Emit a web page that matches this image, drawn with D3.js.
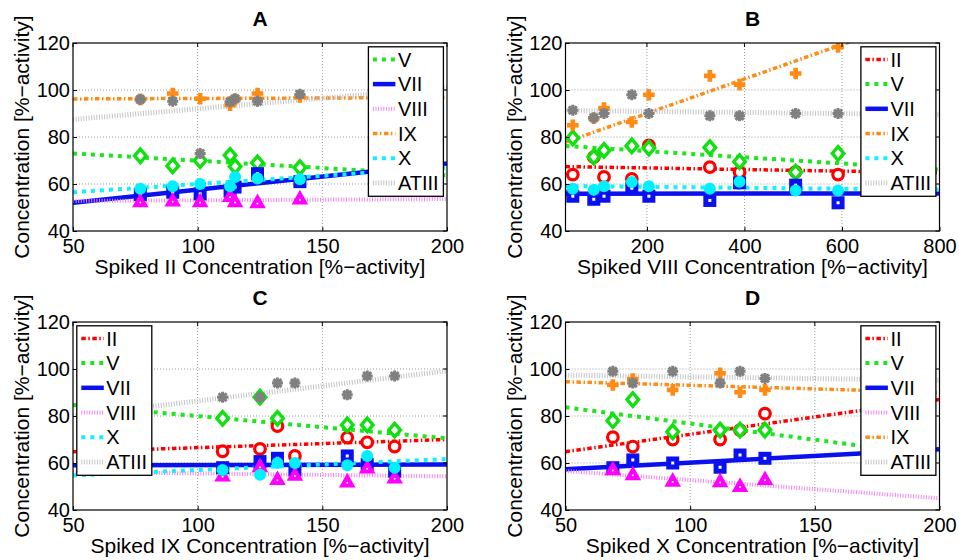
<!DOCTYPE html>
<html><head><meta charset="utf-8">
<script src="https://cdn.jsdelivr.net/npm/d3@7"></script>
<style>
body{margin:0;background:#fff}
svg{display:block}
text{font-family:"Liberation Sans",Arial,Helvetica,sans-serif;fill:#000}
</style>
</head><body>
<svg id="chart" width="959" height="560"></svg>
<script>
// ---------------- DATA ----------------
const seriesNames = ["II","V","VII","VIII","IX","X","ATIII"];
const yTicks = [40, 60, 80, 100, 120];
const yDomain = [40, 120];

// Panel A : spiked II
const xA = [77, 90, 101, 113, 115, 124, 141];
const A_V     = [72, 67.7, 70, 72.2, 67.5, 69, 67];
const A_VII   = [55.5, 56.5, 55.8, 57, 58.7, 64.4, 61];
const A_VIII  = [53, 53.3, 53, 55.2, 53, 52.6, 54.2];
const A_IX    = [96, 98.5, 96.3, 93.5, 96, 98.5, 97];
const A_X     = [58, 59, 60, 59, 63, 62.3, 62];
const A_ATIII = [96, 95.2, 73, 95, 96.3, 95.2, 98.2];
// trend-line values at the two ends of the x range
const fitA_V = [73, 63.7], fitA_VII = [52, 68.7], fitA_VIII = [52.8, 53.6],
      fitA_IX = [96.2, 96.8], fitA_X = [56.5, 67], fitA_ATIII = [87.5, 101];
const xDomainA = [50, 200];
const xTicksA = [50, 100, 150, 200];

// Panel B : spiked VIII
const xB = [48, 91, 112, 169, 204, 329, 390, 505, 592];
const B_II    = [64, 71.4, 63, 62.2, 76.4, 67.2, 65, 65.2, 64];
const B_V     = [79.6, 71.5, 74.3, 76.2, 75.3, 75.5, 69.5, 65, 73];
const B_VII   = [54.8, 53.5, 54.8, 58.2, 54.8, 53, 60.5, 59.5, 52];
const B_IX    = [85, 88, 92.3, 86.4, 98, 106, 102.3, 107, 118.3];
const B_X     = [58, 57.5, 59, 60.8, 59, 58, 61, 57.2, 57.2];
const B_ATIII = [91.4, 88.2, 90, 98, 90, 89, 89, 90, 90];
const fitB_II = [67.4, 64.8], fitB_V = [76.2, 66.1], fitB_VII = [55.8, 56],
      fitB_IX = [77.8, 134], fitB_X = [59.1, 57.6], fitB_ATIII = [91.3, 89.5];
const xDomainB = [33, 800];
const xTicksB = [200, 400, 600, 800];

// Panel C : spiked IX
const xC = [110, 125, 132, 139, 160, 168, 179];
const C_II    = [65, 66, 75.7, 63, 70.8, 68.8, 67];
const C_V     = [79, 88, 79, null, 76.2, 76.2, 74];
const C_VII   = [58, 60.6, 62, 57, 63, 59.3, 56.5];
const C_VIII  = [55, 59, 53.5, 55.3, 52.5, 58.4, 54.2];
const C_X     = [57, 55, 60, 60, 59, 63, 58];
const C_ATIII = [88, 88, 94, 94, 89, 97, 97];
const fitC_II = [64.8, 70], fitC_V = [84.7, 70.5], fitC_VII = [59, 59.4],
      fitC_VIII = [56.2, 54.3], fitC_X = [54.7, 61.7], fitC_ATIII = [80, 99.2];
const xDomainC = [50, 200];
const xTicksC = [50, 100, 150, 200];

// Panel D : spiked X
const xD = [69, 77, 93, 112, 120, 130];
const D_II    = [71, 67, 70, 70, 74, 81];
const D_V     = [78, 87, 73.3, 74, 74, 74];
const D_VII   = [58, 61.3, 60, 58.2, 63.4, 62];
const D_VIII  = [57.7, 55.6, 52.8, 52.6, 50.6, 53.5];
const D_IX    = [93.2, 95.7, 91.1, 98.2, 90.1, 91.1];
const D_ATIII = [99, 94, 99, 94, 99, 96];
const fitD_II = [64.8, 87], fitD_V = [83.7, 63], fitD_VII = [57.3, 65.8],
      fitD_VIII = [56.6, 45], fitD_IX = [94.6, 90], fitD_ATIII = [97.4, 95.2];
const xDomainD = [50, 200];
const xTicksD = [50, 100, 150, 200];

const titles = ["A", "B", "C", "D"];
const xLabels = ["Spiked II Concentration [%\u2212activity]", "Spiked VIII Concentration [%\u2212activity]",
                 "Spiked IX Concentration [%\u2212activity]", "Spiked X Concentration [%\u2212activity]"];
const yLabel = "Concentration [%\u2212activity]";

// ---------------- STYLES ----------------
const styles = {
  II:    {color:"#ff0000", width:3.5, dash:"4.5,2.5,1.5,2.5", marker:"circle"},
  V:     {color:"#1ee61e", width:4,   dash:"4,5",             marker:"diamond"},
  VII:   {color:"#0a10ee", width:4.5, dash:null,              marker:"square"},
  VIII:  {color:"#f284f2", width:4,   dash:"1,1.6",           marker:"triangle"},
  IX:    {color:"#ff8a14", width:3.5, dash:"4.5,2.5,1.5,2.5", marker:"plus"},
  X:     {color:"#10f0ff", width:4,   dash:"4,5",             marker:"dot"},
  ATIII: {color:"#c4c4c4", width:5,   dash:"1,1.6",           marker:"star"}
};
const markerColor = {ATIII:"#808080", VIII:"#ff00ff", X:"#00f0ff", V:"#10e010", IX:"#ff8a14"};

// ---------------- PANEL CONFIG ----------------
const W = 374, H = 188;
const panels = [
  {left:73, top:43, x:xA, xDomain:xDomainA, xTicks:xTicksA, legend:"right",
   series:{V:A_V, VII:A_VII, VIII:A_VIII, IX:A_IX, X:A_X, ATIII:A_ATIII},
   fits:{V:fitA_V, VII:fitA_VII, VIII:fitA_VIII, IX:fitA_IX, X:fitA_X, ATIII:fitA_ATIII}},
  {left:565.5, top:43, x:xB, xDomain:xDomainB, xTicks:xTicksB, legend:"right",
   series:{II:B_II, V:B_V, VII:B_VII, IX:B_IX, X:B_X, ATIII:B_ATIII},
   fits:{II:fitB_II, V:fitB_V, VII:fitB_VII, IX:fitB_IX, X:fitB_X, ATIII:fitB_ATIII}},
  {left:73, top:322, x:xC, xDomain:xDomainC, xTicks:xTicksC, legend:"left",
   series:{II:C_II, V:C_V, VII:C_VII, VIII:C_VIII, X:C_X, ATIII:C_ATIII},
   fits:{II:fitC_II, V:fitC_V, VII:fitC_VII, VIII:fitC_VIII, X:fitC_X, ATIII:fitC_ATIII}},
  {left:565.5, top:322, x:xD, xDomain:xDomainD, xTicks:xTicksD, legend:"right",
   series:{II:D_II, V:D_V, VII:D_VII, VIII:D_VIII, IX:D_IX, ATIII:D_ATIII},
   fits:{II:fitD_II, V:fitD_V, VII:fitD_VII, VIII:fitD_VIII, IX:fitD_IX, ATIII:fitD_ATIII}}
];

const svg = d3.select("#chart");
const defs = svg.append("defs");
defs.append("clipPath").attr("id","plotclip").append("rect")
  .attr("x",0).attr("y",0).attr("width",W).attr("height",H);

function drawMarker(sel, type, color) {
  if (type === "circle") {
    sel.append("circle").attr("r",5.3).attr("fill","#fff").attr("stroke",color).attr("stroke-width",3.2);
  } else if (type === "diamond") {
    sel.append("path").attr("d","M0,-6.8L5.8,0L0,6.8L-5.8,0Z").attr("fill","#fff")
      .attr("stroke",color).attr("stroke-width",3.4).attr("stroke-linejoin","miter");
  } else if (type === "square") {
    sel.append("rect").attr("x",-4).attr("y",-4).attr("width",8).attr("height",8)
      .attr("fill","#fff").attr("stroke",color).attr("stroke-width",5);
  } else if (type === "triangle") {
    sel.append("path").attr("d","M0,-7.8L8.3,6.8L-8.3,6.8Z").attr("fill",color);
    sel.append("circle").attr("cx",0).attr("cy",2).attr("r",1).attr("fill","#fff");
  } else if (type === "dot") {
    sel.append("circle").attr("r",6).attr("fill",color);
  } else if (type === "plus") {
    sel.append("path").attr("d","M-5.8,0H5.8M0,-5.8V5.8").attr("stroke",color).attr("stroke-width",4.6);
  } else if (type === "star") {
    sel.append("path").attr("d","M-5.5,0H5.5M0,-5.5V5.5M-4,-4L4,4M-4,4L4,-4")
      .attr("stroke",color).attr("stroke-width",3);
    sel.append("circle").attr("r",3.5).attr("fill",color);
  }
}

panels.forEach((p, pi) => {
  const g = svg.append("g").attr("transform", `translate(${p.left},${p.top})`);
  const x = d3.scaleLinear().domain(p.xDomain).range([0, W]);
  const y = d3.scaleLinear().domain(yDomain).range([H, 0]);

  // grid
  g.append("g").selectAll("line")
    .data(p.xTicks.filter(t => t > p.xDomain[0] && t < p.xDomain[1])).join("line")
    .attr("x1", d => x(d)).attr("x2", d => x(d)).attr("y1", 0).attr("y2", H)
    .attr("stroke", "#9a9a9a").attr("stroke-width", 1).attr("stroke-dasharray", "1,2");
  g.append("g").selectAll("line")
    .data(yTicks.filter(t => t > yDomain[0] && t < yDomain[1])).join("line")
    .attr("x1", 0).attr("x2", W).attr("y1", d => y(d)).attr("y2", d => y(d))
    .attr("stroke", "#9a9a9a").attr("stroke-width", 1).attr("stroke-dasharray", "1,2");

  const names = seriesNames.filter(n => p.series[n]);
  const lineGen = d3.line().x(d => x(d[0])).y(d => y(d[1]));

  // trend lines
  const lg = g.append("g").attr("clip-path", "url(#plotclip)");
  names.forEach(n => {
    const s = styles[n];
    lg.append("path")
      .datum([[p.xDomain[0], p.fits[n][0]], [p.xDomain[1], p.fits[n][1]]])
      .attr("d", lineGen).attr("fill", "none")
      .attr("stroke", s.color).attr("stroke-width", s.width)
      .attr("stroke-dasharray", s.dash);
  });

  // markers
  const mg = g.append("g").attr("clip-path", "url(#plotclip)");
  names.forEach(n => {
    const s = styles[n];
    const col = markerColor[n] || s.color;
    const pts = p.x.map((xv, i) => [xv, p.series[n][i]]).filter(d => d[1] != null);
    mg.append("g").selectAll("g").data(pts).join("g")
      .attr("transform", d => `translate(${x(d[0])},${y(d[1])})`)
      .each(function() { drawMarker(d3.select(this), s.marker, col); });
  });

  // axes
  const xAxis = d3.axisBottom(x).tickValues(p.xTicks).tickSize(-4).tickPadding(7.5).tickFormat(d3.format("d"));
  const yAxis = d3.axisLeft(y).tickValues(yTicks).tickSize(-4).tickPadding(3).tickFormat(d3.format("d"));
  const gx = g.append("g").attr("transform", `translate(0,${H})`).call(xAxis);
  const gy = g.append("g").call(yAxis);
  [gx, gy].forEach(a => {
    a.select(".domain").remove();
    a.selectAll("line").attr("stroke", "#000");
    a.selectAll("text").attr("font-size", "20px").attr("font-family", '"Liberation Sans",Arial,sans-serif').attr("fill","#000");
  });
  // top/right ticks
  g.append("g").selectAll("line").data(p.xTicks).join("line")
    .attr("x1", d => x(d)).attr("x2", d => x(d)).attr("y1", 0).attr("y2", 4).attr("stroke", "#000");
  g.append("g").selectAll("line").data(yTicks).join("line")
    .attr("x1", W).attr("x2", W - 4).attr("y1", d => y(d)).attr("y2", d => y(d)).attr("stroke", "#000");

  g.append("rect").attr("x", 0).attr("y", 0).attr("width", W).attr("height", H)
    .attr("fill", "none").attr("stroke", "#000").attr("stroke-width", 1.2);

  // title and labels
  g.append("text").attr("x", W / 2).attr("y", -17.5).attr("text-anchor", "middle")
    .attr("font-size", "21px").attr("font-weight", "bold").text(titles[pi]);
  g.append("text").attr("x", W / 2).attr("y", H + 43).attr("text-anchor", "middle")
    .attr("font-size", "21px").text(xLabels[pi]);
  g.append("text").attr("transform", `translate(-44,${H / 2}) rotate(-90)`)
    .attr("text-anchor", "middle").attr("font-size", "21px").text(yLabel);

  // legend
  const lw = 75, rh = 24.7, lh = 149.5;
  const lx = p.legend === "right" ? W - 3.6 - lw : 3.8;
  const ly = 3.8;
  const leg = g.append("g").attr("transform", `translate(${lx},${ly})`);
  leg.append("rect").attr("width", lw).attr("height", lh).attr("fill", "#fff")
    .attr("stroke", "#000").attr("stroke-width", 1.3);
  names.forEach((n, i) => {
    const s = styles[n];
    const cy = 12.6 + i * rh;
    leg.append("line").attr("x1", 4.5).attr("x2", 27).attr("y1", cy).attr("y2", cy)
      .attr("stroke", s.color).attr("stroke-width", s.width).attr("stroke-dasharray", s.dash);
    leg.append("text").attr("x", 29.5).attr("y", cy).attr("dy", "0.36em")
      .attr("font-size", "20px").text(n);
  });
});
</script>
</body></html>
